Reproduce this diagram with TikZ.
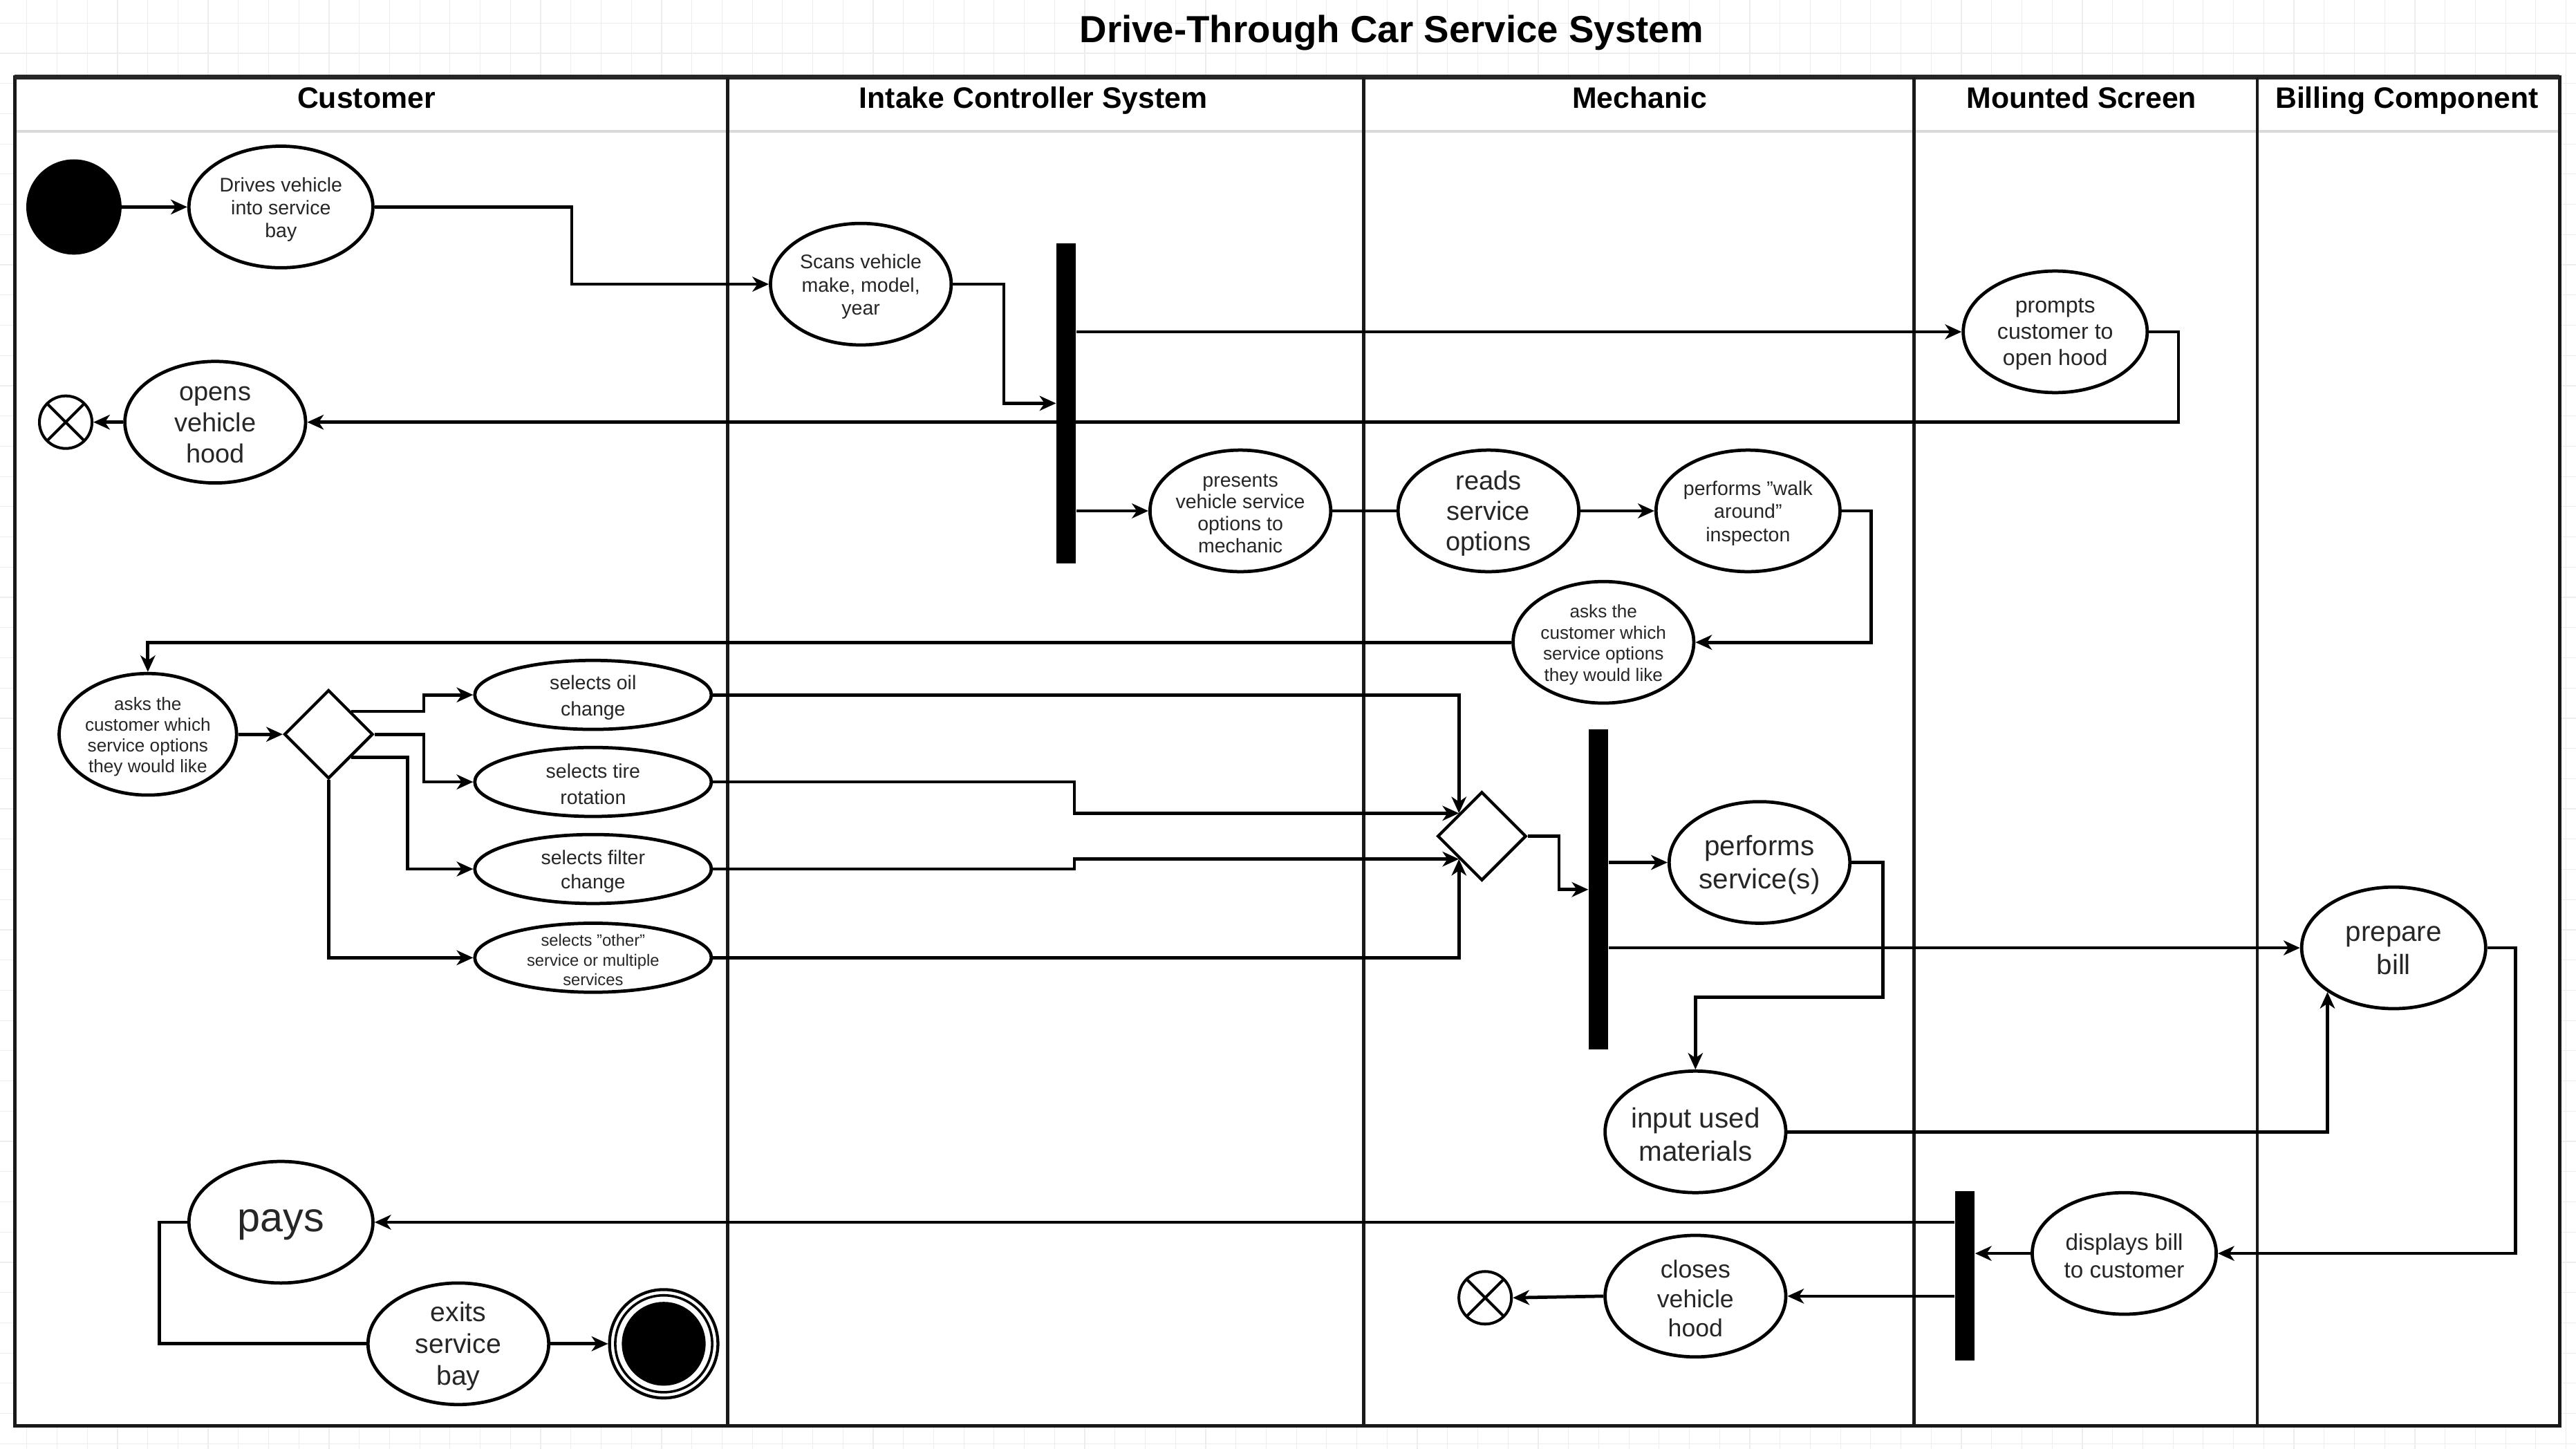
\documentclass[tikz,border=0pt]{standalone}
\usepackage{fontspec}
\setmainfont{Liberation Sans}
\usetikzlibrary{shapes.geometric,arrows.meta,calc}
\newcommand\fsz[2]{\fontsize{#1}{#2}\selectfont}
\tikzset{
  act/.style 2 args={ellipse, draw, line width=2pt, fill=white, inner sep=0pt, minimum width=#1, minimum height=#2},
  txt/.style={align=center, inner sep=0pt, text=black!85},
  dec/.style={diamond, draw, line width=1.8pt, fill=white, inner sep=0pt, minimum width=54, minimum height=54, aspect=1},
  barnode/.style={rectangle, fill=black, draw=none, inner sep=0pt, minimum width=12, minimum height=#1},
  ffinal/.style={circle, draw, line width=1.7pt, fill=white, minimum size=32, inner sep=0pt,
    path picture={\draw[line width=1.7pt] (path picture bounding box.north east) -- (path picture bounding box.south west)
      (path picture bounding box.north west) -- (path picture bounding box.south east);}},
  arr/.style={line width=2pt, -{Stealth[length=10pt,width=9pt,inset=3pt]}},
  conn/.style={line width=2pt},
  hdr/.style={font=\bfseries\fsz{18}{22}, inner sep=0pt, anchor=base},
  lane/.style={line width=2pt, draw=black!90}
}
\newcommand\actnode[7]{\node[act={#3}{#4}] (#1) at (#2) {};
  \node[txt, font=\fsz{#5}{#6}] (#1-t) at ([yshift=-1.5pt]#1.center) {#7};}
\begin{document}
\begin{tikzpicture}[x=1pt,y=-1pt]
\useasboundingbox (0,0) rectangle (1568,882);
\fill[white] (0,0) rectangle (1568,882);
% faint background grid
\foreach \i in {0,...,85} \draw[black!7, line width=0.5pt] ({16.3+\i*18.4},0) -- ({16.3+\i*18.4},882);
\foreach \j in {0,...,48} \draw[black!7, line width=0.5pt] (0,{14+\j*18.4}) -- (1568,{14+\j*18.4});

% pool and lanes
\draw[fill=white, draw=black!90, line width=2.2pt] (9,47) rectangle (1558,868);
\draw[line width=3pt, draw=black!85] (9,47) -- (1558,47);
\draw[draw=black!15, line width=1.5pt] (10,80) -- (1557,80);
\foreach \lx in {443,830,1165,1374} \draw[lane] (\lx,47) -- (\lx,868);

\node[font=\bfseries\fsz{23}{27}, inner sep=0pt, anchor=base] (title) at (847,26) {Drive-Through Car Service System};
\node[hdr] (h1) at (223,66) {Customer};
\node[hdr] (h2) at (629,66) {Intake Controller System};
\node[hdr] (h3) at (998,66) {Mechanic};
\node[hdr] (h4) at (1267,66) {Mounted Screen};
\node[hdr] (h5) at (1465,66) {Billing Component};

% nodes
\node[circle, fill=black, minimum size=58, inner sep=0pt] (start) at (45,126) {};
\actnode{drives}{171,126}{112}{74}{12}{14}{Drives vehicle\\into service\\bay}
\actnode{scans}{524,173}{110}{74}{12}{14}{Scans vehicle\\make, model,\\year}
\actnode{prompts}{1251,202}{112}{74}{13.5}{16}{prompts\\customer to\\open hood}
\actnode{opens}{131,257}{110}{74}{16}{19}{opens\\vehicle\\hood}
\node[ffinal] (ff1) at (40,257) {};
\node[barnode=195] (bar1) at (649,245.5) {};
\actnode{presents}{755,311}{110}{74}{12}{13.3}{presents\\vehicle service\\options to\\mechanic}
\actnode{reads}{906,311}{110}{74}{16}{18.5}{reads\\service\\options}
\actnode{walk}{1064,311}{112}{74}{12}{14}{performs "walk\\around"\\inspecton}
\actnode{asksM}{976,391}{110}{74}{11}{13}{asks the\\customer which\\service options\\they would like}
\actnode{asksC}{90,447}{108}{74}{11}{12.7}{asks the\\customer which\\service options\\they would like}
\node[dec] (d1) at (200,447) {};
\actnode{oil}{361,423}{144}{42}{12}{16}{selects oil\\change}
\actnode{tire}{361,476}{144}{42}{12}{16}{selects tire\\rotation}
\actnode{filter}{361,529}{144}{42}{12}{15}{selects filter\\change}
\actnode{other}{361,583}{144}{42}{10}{12}{selects "other"\\service or multiple\\services}
\node[dec] (d2) at (902,509) {};
\node[barnode=195] (bar2) at (973,541.5) {};
\actnode{perf}{1071,525}{110}{74}{17}{20}{performs\\service(s)}
\actnode{input}{1032,689}{110}{74}{17}{20}{input used\\materials}
\actnode{prep}{1457,577}{112}{74}{17}{20}{prepare\\bill}
\actnode{disp}{1293,763}{112}{74}{14}{17}{displays bill\\to customer}
\node[barnode=103] (bar3) at (1196,776.5) {};
\actnode{closes}{1032,789}{110}{74}{15}{18}{closes\\vehicle\\hood}
\node[ffinal] (ff2) at (904,790) {};
\actnode{pays}{171,744}{112}{74}{25}{28}{pays}
\actnode{exits}{279,818}{110}{74}{16.5}{19.5}{exits\\service\\bay}
\node[circle, draw, line width=1.8pt, minimum size=66, inner sep=0pt] (endn) at (404,818) {};
\draw[line width=1.5pt] (endn.center) circle (29.5pt);
\fill (endn.center) circle (25.5pt);

% bend coordinates
\coordinate (k1) at (348,0);
\coordinate (k2) at (258,0);
\coordinate (k3) at (248,0);
\coordinate (k5) at (654,0);
\coordinate (k6) at (611,0);

% connectors
\draw[arr] (start.east) -- (drives.west);
\draw[arr] (drives.east) -- (drives.east -| k1) |- (scans.west);
\draw[arr] (scans.east) -- (scans.east -| k6) |- (bar1.west);
\draw[arr] (bar1.east |- prompts.west) -- (prompts.west);
\draw[arr] (prompts.east) -- ++(18,0) |- (opens.east);
\draw[arr] (opens.west) -- (ff1.east);
\draw[arr] (bar1.east |- presents.west) -- (presents.west);
\draw[conn] (presents.east) -- (reads.west);
\draw[arr] (reads.east) -- (walk.west);
\draw[arr] (walk.east) -- ++(18,0) |- (asksM.east);
\draw[arr] (asksM.west) -| (asksC.north);
\draw[arr] (asksC.east) -- (d1.west);
\draw[arr] (d1.north east) -- (d1.north east -| k2) |- (oil.west);
\draw[arr] (d1.east) -- (d1.east -| k2) |- (tire.west);
\draw[arr] (d1.south east) -- (d1.south east -| k3) |- (filter.west);
\draw[arr] (d1.south) |- (other.west);
\draw[arr] (oil.east) -| (d2.north west);
\draw[arr] (tire.east) -- (tire.east -| k5) |- (d2.north west);
\draw[arr] (filter.east) -- (filter.east -| k5) |- (d2.south west);
\draw[arr] (other.east) -| (d2.south west);
\draw[arr] (d2.east) -- ++(19,0) |- (bar2.west);
\draw[arr] (bar2.east |- perf.west) -- (perf.west);
\draw[arr] (bar2.east |- prep.west) -- (prep.west);
\draw[arr] (perf.east) -- ++(19,0) -- ++(0,82) -| (input.north);
\draw[arr] (input.east) -| (prep.south west);
\draw[arr] (prep.east) -- ++(17,0) |- (disp.east);
\draw[arr] (disp.west) -- (bar3.east |- disp.west);
\draw[arr] (bar3.west |- pays.east) -- (pays.east);
\draw[arr] (bar3.west |- closes.east) -- (closes.east);
\draw[arr] (closes.west) -- (ff2.east);
\draw[conn] (pays.west) -- ++(-17,0) |- (exits.west);
\draw[arr] (exits.east) -- (endn.west);
\end{tikzpicture}
\end{document}
